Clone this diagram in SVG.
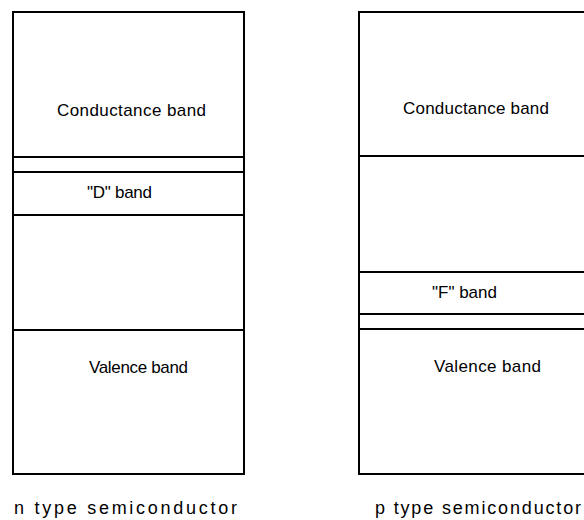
<svg xmlns="http://www.w3.org/2000/svg" width="584" height="520" viewBox="0 0 584 520">
<style>
.box{fill:#fff;stroke:#000;stroke-width:2}
.ln{stroke:#000;stroke-width:2;fill:none}
.t{font-family:"Liberation Sans",Arial,sans-serif;font-size:17px;fill:#000}
.cap{font-family:"Liberation Sans",Arial,sans-serif;font-size:18px;fill:#000}
</style>
<rect width="584" height="520" fill="#fff"/>
<g id="n-type">
<rect class="box" x="13" y="12" width="231" height="462"/>
<line class="ln" x1="13" y1="157" x2="244" y2="157"/>
<line class="ln" x1="13" y1="172" x2="244" y2="172"/>
<line class="ln" x1="13" y1="215" x2="244" y2="215"/>
<line class="ln" x1="13" y1="330" x2="244" y2="330"/>
<text class="t" x="57" y="116" textLength="149" lengthAdjust="spacing">Conductance band</text>
<text class="t" x="87" y="198" textLength="65" lengthAdjust="spacing">"D" band</text>
<text class="t" x="89" y="373" textLength="99" lengthAdjust="spacing">Valence band</text>
<text class="cap" x="14" y="514" textLength="223" lengthAdjust="spacing">n type semiconductor</text>
</g>
<g id="p-type">
<rect class="box" x="359" y="12" width="240" height="462"/>
<line class="ln" x1="359" y1="156" x2="600" y2="156"/>
<line class="ln" x1="359" y1="272" x2="600" y2="272"/>
<line class="ln" x1="359" y1="314" x2="600" y2="314"/>
<line class="ln" x1="359" y1="329" x2="600" y2="329"/>
<text class="t" x="403" y="114" textLength="146" lengthAdjust="spacing">Conductance band</text>
<text class="t" x="432" y="298" textLength="65" lengthAdjust="spacing">"F" band</text>
<text class="t" x="434" y="372" textLength="107" lengthAdjust="spacing">Valence band</text>
<text class="cap" x="375" y="514" textLength="206" lengthAdjust="spacing">p type semiconductor</text>
</g>
<g id="connectors"></g>
</svg>
